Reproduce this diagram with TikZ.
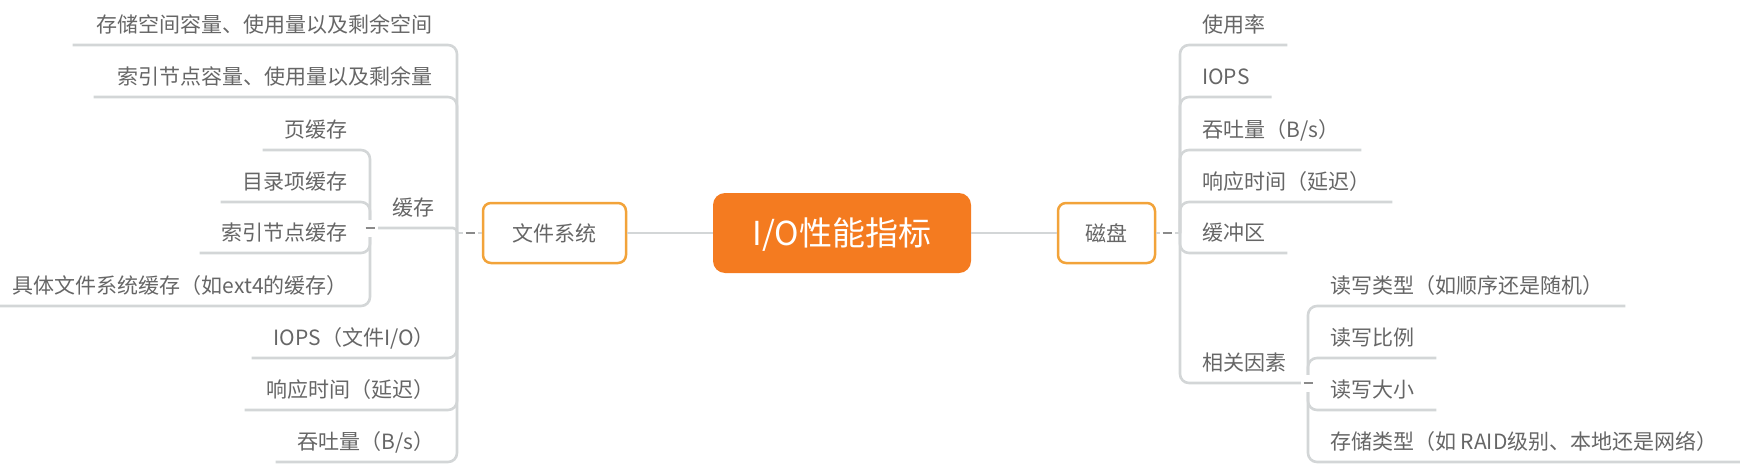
\documentclass[tikz,border=0pt]{standalone}
\usepackage{fontspec}
\setmainfont{Noto Sans CJK SC}
\definecolor{txtgray}{HTML}{666666}
\definecolor{linegray}{HTML}{D3D6D7}
\definecolor{markgray}{HTML}{8A8A8A}
\definecolor{boxorange}{HTML}{F2A33A}
\definecolor{rootorange}{HTML}{F47B20}
\begin{document}
\begin{tikzpicture}[x=1pt,y=-1pt,
  font=\fontsize{21}{24}\selectfont,
  conn/.style={draw=linegray, line width=2.6pt},
  branch/.style={draw=linegray, line width=2.6pt, rounded corners=9pt},
  item/.style={text=txtgray, inner xsep=22pt, inner ysep=0pt, minimum height=40pt, text height=18pt, text depth=2pt},
  subbox/.style={draw=boxorange, line width=2.5pt, rounded corners=8pt, fill=white, minimum height=60pt, text=txtgray, inner sep=0pt, text height=18pt, text depth=2pt},
  rootbox/.style={fill=rootorange, rounded corners=12pt, minimum width=258pt, minimum height=80pt, text=white, inner sep=0pt, font=\fontsize{33}{36}\selectfont, text height=28pt, text depth=3pt},
  marker/.style={fill=white, minimum width=15pt, minimum height=17pt, inner sep=0pt},
  markline/.style={draw=markgray, line width=2.4pt}
]
\useasboundingbox (0,0) rectangle (1744,476);

% joints
\coordinate (fsj) at (457,233);
\coordinate (dkj) at (1180,233);
\coordinate (hcj) at (370,228);
\coordinate (xgj) at (1308,383);

% main nodes
\node[rootbox] (root) at (842,233) {I/O性能指标};
\node[subbox, minimum width=143pt] (fs) at (554.5,233) {文件系统};
\node[subbox, minimum width=97pt] (dk) at (1106.5,233) {磁盘};

\draw[conn] (fs.east) -- (root.west);
\draw[conn] (root.east) -- (dk.west);
\draw[conn] (fs.west) -- (fsj);
\draw[conn] (dk.east) -- (dkj);

% left items
\node[item, anchor=south east, inner xsep=24pt] (l1) at (457,45) {存储空间容量、使用量以及剩余空间};
\node[item, anchor=south east, inner xsep=24pt] (l2) at (457,97) {索引节点容量、使用量以及剩余量};
\node[item, anchor=south east] (hc) at (457,228) {缓存};
\node[item, anchor=south east] (l4) at (457,358) {IOPS（文件I/O）};
\node[item, anchor=south east] (l5) at (457,410) {响应时间（延迟）};
\node[item, anchor=south east] (l6) at (457,462) {吞吐量（B/s）};

\draw[branch] (fsj) |- (l1.south west);
\draw[branch] (fsj) |- (l2.south west);
\draw[branch, rounded corners=4pt] (fsj) |- (hcj);
\draw[branch] (fsj) |- (l4.south west);
\draw[branch] (fsj) |- (l5.south west);
\draw[branch] (fsj) |- (l6.south west);

% left sub items
\node[item, anchor=south east] (c1) at (370,150) {页缓存};
\node[item, anchor=south east] (c2) at (370,202) {目录项缓存};
\node[item, anchor=south east] (c3) at (370,253) {索引节点缓存};
\node[item, anchor=south east] (c4) at (370,306) {具体文件系统缓存（如ext4的缓存）};

\draw[branch] (hcj) |- (c1.south west);
\draw[branch] (hcj) |- (c2.south west);
\draw[branch] (hcj) |- (c3.south west);
\draw[branch] (hcj) |- (c4.south west);

% right items
\node[item, anchor=south west] (r1) at (1180,45) {使用率};
\node[item, anchor=south west] (r2) at (1180,97) {IOPS};
\node[item, anchor=south west] (r3) at (1180,150) {吞吐量（B/s）};
\node[item, anchor=south west] (r4) at (1180,202) {响应时间（延迟）};
\node[item, anchor=south west] (r5) at (1180,253) {缓冲区};
\node[item, anchor=south west] (xg) at (1180,383) {相关因素};

\draw[branch] (dkj) |- (r1.south east);
\draw[branch] (dkj) |- (r2.south east);
\draw[branch] (dkj) |- (r3.south east);
\draw[branch] (dkj) |- (r4.south east);
\draw[branch] (dkj) |- (r5.south east);
\draw[branch] (dkj) |- (xgj);

% right sub items
\node[item, anchor=south west] (s1) at (1308,306) {读写类型（如顺序还是随机）};
\node[item, anchor=south west] (s2) at (1308,358) {读写比例};
\node[item, anchor=south west] (s3) at (1308,410) {读写大小};
\node[item, anchor=south west] (s4) at (1308,462) {存储类型（如 RAID级别、本地还是网络）};

\draw[branch] (xgj) |- (s1.south east);
\draw[branch] (xgj) |- (s2.south east);
\draw[branch] (xgj) |- (s3.south east);
\draw[branch] (xgj) |- (s4.south east);

% collapse markers
\node[marker] (m1) at (470,233) {};
\node[marker] (m2) at (hcj) {};
\node[marker] (m3) at (1167,233) {};
\node[marker] (m4) at (xgj) {};
\foreach \m in {m1,m2,m3,m4}
  \draw[markline] ([xshift=-4.5pt]\m.center) -- ([xshift=4.5pt]\m.center);
\end{tikzpicture}
\end{document}
